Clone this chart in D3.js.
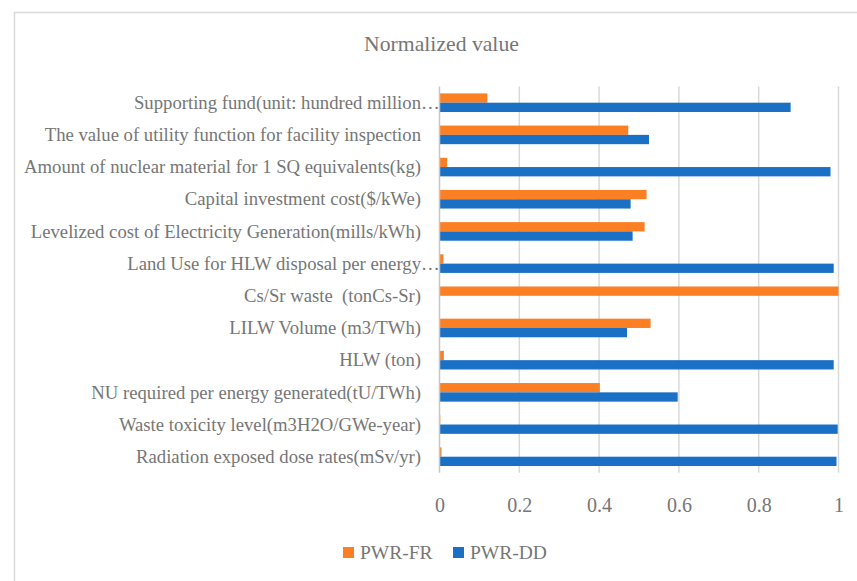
<!DOCTYPE html>
<html lang="en">
<head>
    <meta charset="utf-8">
    <title>Normalized value</title>
    <script src="https://cdn.jsdelivr.net/npm/d3@7"></script>
    <style>
        html, body {
            margin: 0;
            padding: 0;
            background: #fff;
        }
        svg text {
            font-family: "Liberation Serif", "Times New Roman", serif;
            fill: #767676;
        }
    </style>
</head>
<body>
    <div id="chart"></div>
    <script>
        // categories top to bottom, as they appear in the chart
        var categories = [
            "Supporting fund(unit: hundred million…",
            "The value of utility function for facility inspection",
            "Amount of nuclear material for 1 SQ equivalents(kg)",
            "Capital investment cost($/kWe)",
            "Levelized cost of Electricity Generation(mills/kWh)",
            "Land Use for HLW disposal per energy…",
            "Cs/Sr waste  (tonCs-Sr)",
            "LILW Volume (m3/TWh)",
            "HLW (ton)",
            "NU required per energy generated(tU/TWh)",
            "Waste toxicity level(m3H2O/GWe-year)",
            "Radiation exposed dose rates(mSv/yr)"
        ];

        var seriesNames = ["PWR-FR", "PWR-DD"];
        var seriesColors = ["#fd7f23", "#1a70c4"];

        var pwrFR = [0.12, 0.473, 0.019, 0.519, 0.514, 0.01, 1.0, 0.529, 0.011, 0.402, 0.002, 0.005];
        var pwrDD = [0.88, 0.525, 0.98, 0.479, 0.484, 0.988, 0, 0.47, 0.988, 0.597, 0.998, 0.995];

        var ticks = [0, 0.2, 0.4, 0.6, 0.8, 1];

        var width = 857, height = 581;

        var svg = d3.select("#chart").append("svg")
            .attr("width", width)
            .attr("height", height);

        //chart area border, runs off the right and bottom edge
        svg.append("rect")
            .attr("x", 14.5)
            .attr("y", 12.5)
            .attr("width", 900)
            .attr("height", 700)
            .attr("fill", "#fff")
            .attr("stroke", "#d9d9d9")
            .attr("stroke-width", 1.5);

        var x = d3.scaleLinear()
            .domain([0, 1])
            .range([439.5, 838.5]);

        var y = d3.scaleBand()
            .domain(categories)
            .range([86.6, 472.8])
            .padding(0);

        var ySeries = d3.scaleBand()
            .domain(seriesNames)
            .range([0, y.bandwidth()])
            .paddingInner(0)
            .paddingOuter(0.73);

        var color = d3.scaleOrdinal()
            .domain(seriesNames)
            .range(seriesColors);

        //gridlines
        svg.append("g")
            .attr("class", "grid")
            .selectAll("line")
            .data(ticks.slice(1))
            .enter().append("line")
            .attr("x1", function(d) { return x(d); })
            .attr("x2", function(d) { return x(d); })
            .attr("y1", y.range()[0])
            .attr("y2", y.range()[1])
            .attr("stroke", "#d9d9d9")
            .attr("stroke-width", 1.5);

        //bars
        var rows = categories.map(function(c, i) {
            return { cat: c, values: [pwrFR[i], pwrDD[i]] };
        });

        var group = svg.append("g")
            .selectAll("g")
            .data(rows)
            .enter().append("g")
            .attr("transform", function(d) { return "translate(0," + y(d.cat) + ")"; });

        group.selectAll("rect")
            .data(function(d) {
                return seriesNames.map(function(s, j) { return { name: s, value: d.values[j] }; });
            })
            .enter().append("rect")
            .attr("x", x(0))
            .attr("y", function(d) { return ySeries(d.name); })
            .attr("width", function(d) { return x(d.value) - x(0); })
            .attr("height", ySeries.bandwidth())
            .attr("fill", function(d) { return color(d.name); });

        //vertical axis line at 0
        svg.append("line")
            .attr("x1", x(0))
            .attr("x2", x(0))
            .attr("y1", y.range()[0])
            .attr("y2", y.range()[1])
            .attr("stroke", "#c6c6c6")
            .attr("stroke-width", 1.5);

        //category labels, truncated ones hang their ellipsis past the label edge
        var labelX = 421;
        var labels = svg.append("g")
            .selectAll("g")
            .data(categories)
            .enter().append("g")
            .attr("transform", function(d) {
                return "translate(0," + (y(d) + y.bandwidth() / 2) + ")";
            });

        labels.append("text")
            .attr("x", labelX)
            .attr("dy", "0.33em")
            .attr("text-anchor", "end")
            .style("font-size", "18.7px")
            .style("white-space", "pre")
            .text(function(d) { return d.replace("…", ""); });

        labels.filter(function(d) { return d.indexOf("…") >= 0; })
            .append("text")
            .attr("x", labelX)
            .attr("dy", "0.33em")
            .style("font-size", "18.7px")
            .text("…");

        //x axis tick labels
        var xAxis = d3.axisBottom(x)
            .tickValues(ticks)
            .tickSize(0)
            .tickPadding(0)
            .tickFormat(function(d) { return d3.format("")(d); });

        var axisG = svg.append("g")
            .attr("transform", "translate(0,512)")
            .call(xAxis);
        axisG.select(".domain").remove();
        axisG.selectAll("text")
            .attr("dy", 0)
            .attr("font-family", null)
            .style("font-size", "20px")
            .attr("fill", null);

        //title
        svg.append("text")
            .attr("x", 441.5)
            .attr("y", 51)
            .attr("text-anchor", "middle")
            .style("font-size", "21.7px")
            .text("Normalized value");

        //legend
        var legendX = [343, 453];
        var legend = svg.append("g")
            .selectAll("g")
            .data(seriesNames)
            .enter().append("g")
            .attr("transform", function(d, i) { return "translate(" + legendX[i] + ",547)"; });

        legend.append("rect")
            .attr("width", 11)
            .attr("height", 11)
            .attr("fill", function(d) { return color(d); });

        legend.append("text")
            .attr("x", 17)
            .attr("y", 12)
            .style("font-size", "19.5px")
            .text(function(d) { return d; });
    </script>
</body>
</html>
